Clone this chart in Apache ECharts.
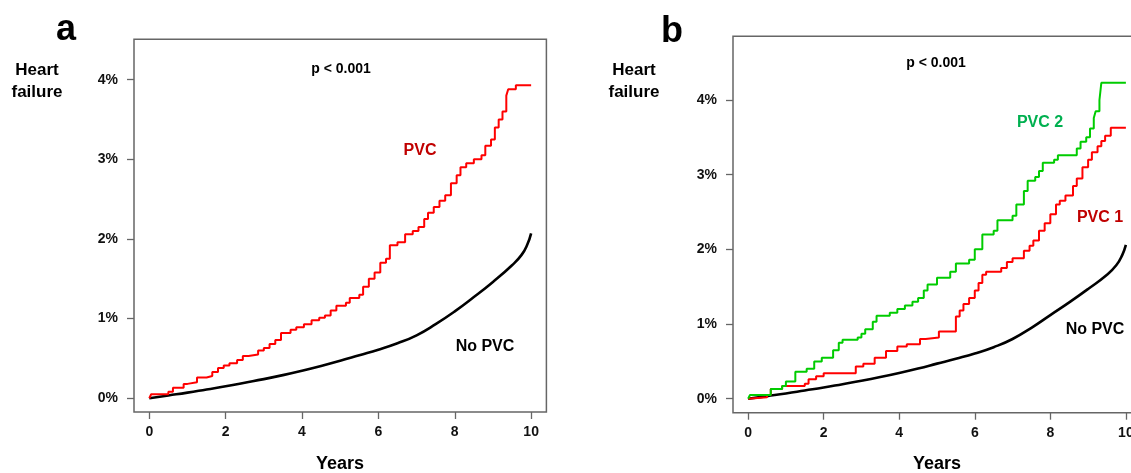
<!DOCTYPE html>
<html><head><meta charset="utf-8">
<script src="https://cdn.jsdelivr.net/npm/echarts@6/dist/echarts.min.js"></script>
<style>html,body{margin:0;padding:0;background:#fff}#c{width:1131px;height:473px}</style>
</head><body><div id="c"></div>
<script>
// ---- tick labels ----
const xTicks = [0, 2, 4, 6, 8, 10];
const yTicks = [0, 1, 2, 3, 4];

// ---- Panel a: PVC (step, cumulative %) ----
const pvcA_t = [0,0.05,0.5,0.62,0.9,1.0,1.25,1.5,1.65,1.8,1.95,2.1,2.3,2.45,2.6,2.85,3.0,3.15,3.3,3.45,3.7,3.85,4.05,4.25,4.45,4.6,4.75,4.9,5.15,5.25,5.5,5.6,5.75,5.9,6.05,6.2,6.3,6.5,6.7,6.9,7.05,7.2,7.3,7.45,7.6,7.75,7.9,8.05,8.15,8.3,8.5,8.7,8.8,8.95,9.05,9.15,9.25,9.35,9.4,9.6,10.0];
const pvcA_v = [0,0.05,0.08,0.13,0.18,0.20,0.26,0.28,0.33,0.38,0.41,0.44,0.48,0.53,0.55,0.60,0.63,0.68,0.73,0.82,0.86,0.89,0.93,0.98,1.01,1.04,1.10,1.16,1.20,1.26,1.30,1.40,1.50,1.58,1.70,1.75,1.92,1.96,2.06,2.10,2.15,2.25,2.33,2.40,2.48,2.55,2.70,2.80,2.90,2.95,3.00,3.05,3.17,3.25,3.40,3.50,3.60,3.80,3.88,3.93,3.93];

// ---- No PVC (smooth) ----
const noPvc_t = [0,0.5,1,1.5,2,2.5,3,3.5,4,4.5,5,5.5,6,6.5,7,7.5,8,8.5,9,9.5,9.75,9.9,10];
const noPvcA_v = [0,0.035,0.07,0.11,0.15,0.195,0.24,0.29,0.345,0.405,0.47,0.54,0.61,0.69,0.79,0.93,1.09,1.27,1.46,1.67,1.80,1.93,2.07];
const noPvcB_v = [0,0.035,0.07,0.11,0.15,0.195,0.24,0.29,0.345,0.405,0.47,0.535,0.605,0.69,0.80,0.95,1.12,1.29,1.47,1.66,1.79,1.92,2.06];

// ---- Panel b: PVC 2 (green) ----
const pvc2_t = [0,0.05,0.5,0.6,0.9,1.0,1.25,1.55,1.75,1.95,2.25,2.4,2.5,2.9,3.0,3.1,3.3,3.4,3.75,3.95,4.15,4.35,4.5,4.65,4.75,5.0,5.35,5.5,5.85,6.0,6.2,6.5,6.6,7.0,7.1,7.3,7.4,7.6,7.7,7.8,8.1,8.2,8.7,8.8,8.95,9.05,9.15,9.2,9.3,9.35,10.0];
const pvc2_v = [0,0.05,0.05,0.13,0.17,0.23,0.36,0.40,0.50,0.55,0.65,0.75,0.79,0.82,0.87,0.93,1.03,1.11,1.15,1.20,1.25,1.30,1.35,1.45,1.53,1.62,1.70,1.81,1.86,2.00,2.20,2.25,2.39,2.45,2.60,2.78,2.92,2.97,3.05,3.16,3.20,3.26,3.35,3.44,3.50,3.62,3.76,3.85,4.00,4.23,4.23];

// ---- Panel b: PVC 1 (red) ----
const pvc1_t = [0,0.05,0.5,0.6,0.9,1.5,1.6,1.8,2.0,2.85,3.05,3.35,3.65,3.95,4.2,4.55,4.7,5.05,5.5,5.6,5.7,5.85,6.0,6.1,6.2,6.3,6.7,6.85,7.0,7.3,7.45,7.55,7.7,7.85,8.0,8.15,8.25,8.4,8.6,8.7,8.85,9.0,9.1,9.25,9.35,9.45,9.6,10.0];
const pvc1_v = [0,0.02,0.05,0.13,0.17,0.20,0.26,0.30,0.34,0.43,0.47,0.55,0.64,0.70,0.73,0.80,0.82,0.90,1.10,1.18,1.27,1.35,1.45,1.55,1.66,1.70,1.75,1.83,1.88,1.98,2.05,2.12,2.25,2.35,2.47,2.60,2.65,2.72,2.85,2.95,3.10,3.20,3.30,3.38,3.45,3.52,3.63,3.63];

const zip = (t, v) => t.map((x, i) => [x, v[i]]);

const FONT = 'Liberation Sans, Arial, Helvetica, sans-serif';
const BOX = '#666';

function xAxisCfg(gi) {
  return {
    type: 'value', gridIndex: gi, min: -0.4, max: 10.4, position: 'bottom',
    axisLine: { show: false, onZero: false },
    axisTick: { show: true, inside: false, length: 7, customValues: xTicks, lineStyle: { color: BOX, width: 1.3 } },
    axisLabel: { customValues: xTicks, margin: 13, color: '#111', fontSize: 14, fontWeight: 'bold', fontFamily: FONT },
    splitLine: { show: false }
  };
}
function yAxisCfg(gi, min, max) {
  return {
    type: 'value', gridIndex: gi, min: min, max: max, position: 'left',
    axisLine: { show: false, onZero: false },
    axisTick: { show: true, inside: false, length: 7, customValues: yTicks, lineStyle: { color: BOX, width: 1.3 } },
    axisLabel: { customValues: yTicks, margin: 16, color: '#111', fontSize: 14, fontWeight: 'bold', fontFamily: FONT,
      formatter: v => v + '%' },
    splitLine: { show: false }
  };
}
function txt(x, y, s, size, color, align) {
  return { type: 'text', x: x, y: y, silent: true,
    style: { text: s, fill: color, fontSize: size, fontWeight: 'bold', fontFamily: FONT,
      align: align || 'center', verticalAlign: 'middle', lineHeight: 22 } };
}

const chart = echarts.init(document.getElementById('c'), null, { renderer: 'canvas' });
chart.setOption({
  animation: false,
  backgroundColor: '#fff',
  grid: [
    { left: 134, top: 39.3, width: 412.4, height: 372.7, show: true, borderColor: BOX, borderWidth: 1.5,
      backgroundColor: 'transparent', containLabel: false, outerBoundsMode: 'none' },
    { left: 733, top: 36.3, width: 408, height: 376.4, show: true, borderColor: BOX, borderWidth: 1.5,
      backgroundColor: 'transparent', containLabel: false, outerBoundsMode: 'none' }
  ],
  xAxis: [xAxisCfg(0), xAxisCfg(1)],
  yAxis: [yAxisCfg(0, -0.173, 4.507), yAxisCfg(1, -0.187, 4.853)],
  series: [
    { type: 'line', xAxisIndex: 0, yAxisIndex: 0, data: zip(noPvc_t, noPvcA_v), smooth: 0.5,
      showSymbol: false, lineStyle: { color: '#000', width: 2.6 } },
    { type: 'line', xAxisIndex: 0, yAxisIndex: 0, data: zip(pvcA_t, pvcA_v), step: 'end',
      showSymbol: false, lineStyle: { color: '#ff0000', width: 2 } },
    { type: 'line', xAxisIndex: 1, yAxisIndex: 1, data: zip(noPvc_t, noPvcB_v), smooth: 0.5,
      showSymbol: false, lineStyle: { color: '#000', width: 2.6 } },
    { type: 'line', xAxisIndex: 1, yAxisIndex: 1, data: zip(pvc1_t, pvc1_v), step: 'end',
      showSymbol: false, lineStyle: { color: '#ff0000', width: 2 } },
    { type: 'line', xAxisIndex: 1, yAxisIndex: 1, data: zip(pvc2_t, pvc2_v), step: 'end',
      showSymbol: false, lineStyle: { color: '#00cc00', width: 2 } }
  ],
  graphic: [
    txt(66, 30, 'a', 36, '#000'),
    txt(672, 32, 'b', 36, '#000'),
    txt(37, 81, 'Heart\nfailure', 17, '#000'),
    txt(634, 81, 'Heart\nfailure', 17, '#000'),
    txt(341, 69, 'p < 0.001', 14, '#000'),
    txt(936, 63, 'p < 0.001', 14, '#000'),
    txt(420, 151, 'PVC', 16, '#c00000'),
    txt(485, 347, 'No PVC', 16, '#000'),
    txt(1040, 123, 'PVC 2', 16, '#00b050'),
    txt(1100, 218, 'PVC 1', 16, '#c00000'),
    txt(1095, 330, 'No PVC', 16, '#000'),
    txt(340, 464, 'Years', 18, '#000'),
    txt(937, 464, 'Years', 18, '#000')
  ]
});
</script>
</body></html>
